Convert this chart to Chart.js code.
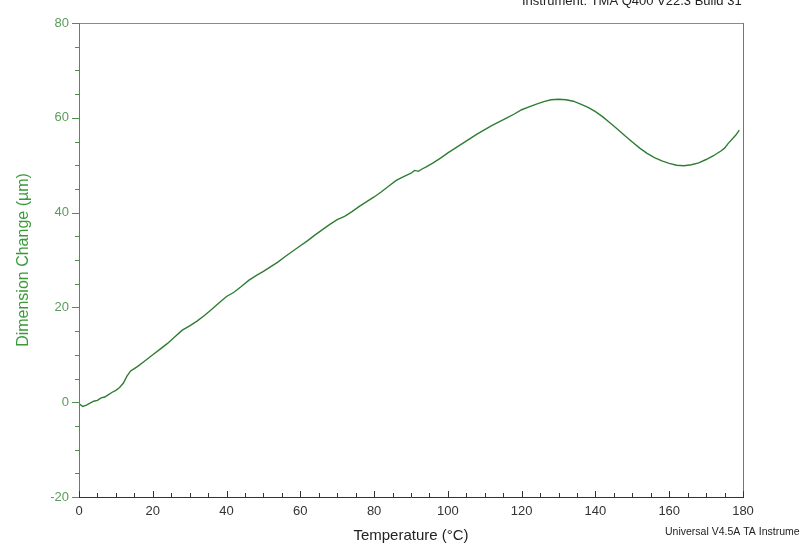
<!DOCTYPE html>
<html>
<head>
<meta charset="utf-8">
<script src="https://cdn.jsdelivr.net/npm/chart.js@4"></script>
<style>
  html, body { margin: 0; padding: 0; background: #fff; }
  #wrap { position: relative; width: 800px; height: 549px; }
</style>
</head>
<body>
<div id="wrap"><canvas id="chart" width="800" height="549"></canvas></div>
<script>
// TMA trace: dimension change vs temperature
const temps = [0, 1, 2, 3, 4, 5, 6, 7, 8, 9, 10, 11, 12, 13, 14, 15, 16, 18, 20, 22, 24, 26, 28, 30,
  32, 34, 36, 38, 40, 42, 44, 46, 48, 50, 52, 54, 56, 58, 60, 62, 64, 66, 68, 70, 72, 74, 76, 78,
  80, 82, 84, 86, 88, 90, 91, 92, 93, 94, 96, 98, 100, 102, 104, 106, 108, 110, 112, 114, 116, 118,
  120, 122, 124, 126, 128, 130, 132, 134, 136, 138, 140, 142, 144, 146, 148, 150, 152, 154, 156,
  158, 160, 162, 164, 166, 168, 170, 172, 174, 175, 176, 178, 179];
const dims = [-0.3, -0.9, -0.6, -0.2, 0.2, 0.4, 0.9, 1.1, 1.6, 2.1, 2.5, 3.1, 4.0, 5.5, 6.6, 7.1, 7.6, 8.8, 10.0, 11.2, 12.4, 13.8, 15.2, 16.1,
  17.1, 18.3, 19.6, 21.0, 22.3, 23.2, 24.4, 25.7, 26.7, 27.6, 28.6, 29.6, 30.8, 31.9, 33.0, 34.1, 35.3, 36.4, 37.5, 38.5, 39.2, 40.2, 41.3, 42.3,
  43.3, 44.4, 45.6, 46.8, 47.6, 48.3, 48.9, 48.7, 49.2, 49.6, 50.5, 51.5, 52.6, 53.6, 54.6, 55.6, 56.6, 57.5, 58.4, 59.2, 60.0, 60.8,
  61.7, 62.3, 62.9, 63.4, 63.8, 63.9, 63.8, 63.5, 62.9, 62.2, 61.3, 60.2, 58.9, 57.6, 56.2, 54.9, 53.6, 52.5, 51.6,
  50.9, 50.4, 50.0, 49.9, 50.1, 50.5, 51.2, 52.0, 53.0, 53.6, 54.6, 56.3, 57.4];

const xMin = 0, xMax = 180, xStep = 5, xLabelEvery = 20;
const yMin = -20, yMax = 80, yStep = 5, yLabelEvery = 20;

const headerText = 'Instrument: TMA Q400 V22.3 Build 31';
const footerText = 'Universal V4.5A TA Instruments';

const GREEN = '#2f7d32';
const AXIS_GREEN = '#4e8f4e';
const LABEL_GREEN = '#5b9a5b';
const FONT = '"Liberation Sans", Arial, sans-serif';

const points = temps.map((t, i) => ({ x: t, y: dims[i] }));

// frame lines, tick marks and the corner texts
const framePlugin = {
  id: 'frame',
  afterDraw(c) {
    const { ctx, chartArea: a, scales } = c;
    ctx.save();
    ctx.lineWidth = 1;
    // top border (grey)
    ctx.strokeStyle = '#8a8a8a';
    ctx.beginPath(); ctx.moveTo(a.left, a.top + 0.5); ctx.lineTo(a.right, a.top + 0.5); ctx.stroke();
    // right border (green)
    ctx.strokeStyle = AXIS_GREEN;
    ctx.beginPath(); ctx.moveTo(a.right + 0.5, a.top); ctx.lineTo(a.right + 0.5, a.bottom); ctx.stroke();
    // left axis
    ctx.beginPath(); ctx.moveTo(a.left + 0.5, a.top); ctx.lineTo(a.left + 0.5, a.bottom); ctx.stroke();
    // y ticks (outside)
    for (let v = yMin; v <= yMax; v += yStep) {
      const py = Math.round(scales.y.getPixelForValue(v)) + 0.5;
      const len = v % yLabelEvery === 0 ? 7 : 4;
      ctx.beginPath(); ctx.moveTo(a.left - len, py); ctx.lineTo(a.left, py); ctx.stroke();
    }
    // bottom axis
    ctx.strokeStyle = '#333';
    ctx.beginPath(); ctx.moveTo(a.left, a.bottom + 0.5); ctx.lineTo(a.right + 1, a.bottom + 0.5); ctx.stroke();
    // x ticks (inside)
    for (let v = xMin; v <= xMax; v += xStep) {
      const px = Math.round(scales.x.getPixelForValue(v)) + 0.5;
      const len = v % xLabelEvery === 0 ? 6 : 4;
      ctx.beginPath(); ctx.moveTo(px, a.bottom); ctx.lineTo(px, a.bottom - len); ctx.stroke();
    }
    // header / footer
    ctx.fillStyle = '#222';
    ctx.font = '13px ' + FONT;
    ctx.textAlign = 'left';
    ctx.textBaseline = 'alphabetic';
    ctx.fillText(headerText, 522, 5);
    ctx.font = '10.5px ' + FONT;
    ctx.textBaseline = 'middle';
    ctx.fillText(footerText, 665, 532);
    ctx.restore();
  }
};

new Chart(document.getElementById('chart'), {
  type: 'line',
  data: {
    datasets: [{
      data: points,
      borderColor: GREEN,
      borderWidth: 1.4,
      pointRadius: 0,
      tension: 0,
      fill: false,
    }],
  },
  options: {
    responsive: false,
    animation: false,
    events: [],
    layout: { padding: { top: 23, right: 57, left: 0, bottom: 0 } },
    plugins: { legend: { display: false }, tooltip: { enabled: false } },
    scales: {
      x: {
        type: 'linear',
        min: xMin, max: xMax,
        grid: { display: false, drawTicks: false },
        border: { display: false },
        afterFit: (s) => { s.height = 52; },
        ticks: {
          stepSize: xStep,
          autoSkip: false,
          maxRotation: 0,
          padding: 7,
          color: '#333',
          font: { family: FONT, size: 13 },
          callback: (v) => (v % xLabelEvery === 0 ? v : ''),
        },
        title: {
          display: true,
          text: 'Temperature (°C)',
          color: '#222',
          font: { family: FONT, size: 15 },
          padding: { top: 3, bottom: 4 },
        },
      },
      y: {
        min: yMin, max: yMax,
        grid: { display: false, drawTicks: false },
        border: { display: false },
        afterFit: (s) => { s.width = 79; },
        ticks: {
          stepSize: yStep,
          autoSkip: false,
          padding: 10,
          color: LABEL_GREEN,
          font: { family: FONT, size: 13 },
          callback: (v) => (v % yLabelEvery === 0 ? v : ''),
        },
        title: {
          display: true,
          text: 'Dimension Change (µm)',
          color: '#3a9a3a',
          font: { family: FONT, size: 16 },
          padding: { top: 14, bottom: 30 },
        },
      },
    },
  },
  plugins: [framePlugin],
});
</script>
</body>
</html>
